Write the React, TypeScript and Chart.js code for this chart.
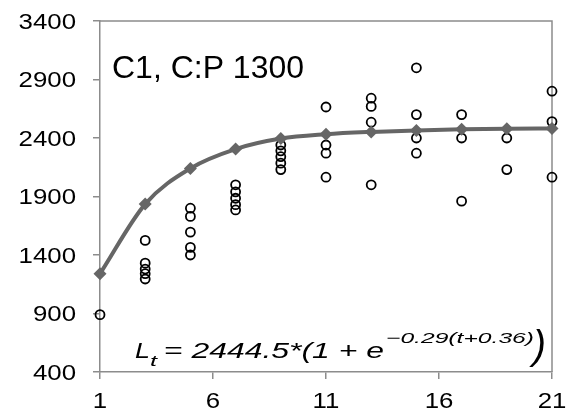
import { useEffect, useRef } from "react";
import { Chart, registerables } from "chart.js";

Chart.register(...registerables);

// Fitted growth curve (diamonds)
const curveT = [1, 3, 5, 7, 9, 11, 13, 15, 17, 19, 21];
const curveLength = [1240, 1835, 2140, 2305, 2395, 2432, 2452, 2465, 2474, 2480, 2482];

// Observations (open circles)
const obsT = [
  1,
  3, 3, 3, 3, 3,
  5, 5, 5, 5, 5,
  7, 7, 7, 7, 7,
  9, 9, 9, 9, 9,
  11, 11, 11, 11,
  13, 13, 13, 13,
  15, 15, 15, 15,
  17, 17, 17,
  19, 19,
  21, 21, 21,
];
const obsLength = [
  890,
  1525, 1330, 1280, 1240, 1195,
  1800, 1730, 1595, 1465, 1400,
  2000, 1940, 1885, 1830, 1785,
  2340, 2290, 2240, 2185, 2130,
  2665, 2340, 2270, 2065,
  2740, 2670, 2535, 2000,
  3000, 2600, 2400, 2270,
  2600, 2400, 1860,
  2400, 2130,
  2800, 2540, 2065,
];

const xTicks = [1, 6, 11, 16, 21];
const yTicks = [400, 900, 1400, 1900, 2400, 2900, 3400];

const titleText = "C1, C:P 1300";
const FONT = "'Liberation Sans', Arial, sans-serif";
const AXIS = "#8c8c8c";
const CURVE = "#666666";
const TICK_FONT = `21.5px ${FONT}`;
const TICK_STRETCH = 1.2;

function drawStretched(ctx: any, text: string, x: number, y: number, sx: number, align: "left" | "center" | "right") {
  const w = ctx.measureText(text).width * sx;
  let left = x;
  if (align === "center") left = x - w / 2;
  if (align === "right") left = x - w;
  ctx.save();
  ctx.translate(left, y);
  ctx.scale(sx, 1);
  ctx.textAlign = "left";
  ctx.fillText(text, 0, 0);
  ctx.restore();
}

function drawFit(ctx: any, text: string, font: string, x: number, y: number, width: number) {
  ctx.font = font;
  const w = ctx.measureText(text).width;
  ctx.save();
  ctx.translate(x, y);
  ctx.scale(width / w, 1);
  ctx.textAlign = "left";
  ctx.fillText(text, 0, 0);
  ctx.restore();
}

const overlayPlugin = {
  id: "overlay",
  beforeDatasetsDraw(chart: any) {
    const { ctx, chartArea } = chart;
    ctx.save();
    ctx.strokeStyle = AXIS;
    ctx.lineWidth = 1.5;
    ctx.beginPath();
    ctx.moveTo(chartArea.left, chartArea.top);
    ctx.lineTo(chartArea.right, chartArea.top);
    ctx.lineTo(chartArea.right, chartArea.bottom);
    ctx.stroke();
    ctx.restore();
  },
  afterDraw(chart: any) {
    const { ctx, scales } = chart;
    ctx.save();
    ctx.fillStyle = "#000";
    ctx.textBaseline = "alphabetic";
    // tick labels
    ctx.font = TICK_FONT;
    const xs = scales.x;
    const ys = scales.y;
    xTicks.forEach((v) => {
      drawStretched(ctx, String(v), xs.getPixelForValue(v), 408, TICK_STRETCH, "center");
    });
    yTicks.forEach((v) => {
      drawStretched(ctx, String(v), 76, ys.getPixelForValue(v) + 7.7, TICK_STRETCH, "right");
    });
    // title
    drawFit(ctx, titleText, `31px ${FONT}`, 112, 78, 192);
    // formula
    const base = 358;
    drawFit(ctx, "L", `italic 22px ${FONT}`, 135, base, 15);
    drawFit(ctx, "t", `italic 15px ${FONT}`, 150, base + 8, 7);
    drawFit(ctx, " = 2444.5*(1 + e", `italic 22px ${FONT}`, 155, base, 229);
    drawFit(ctx, "\u22120.29(t+0.36)", `italic 15px ${FONT}`, 386, base - 15, 148);
    drawFit(ctx, ")", `italic 40px ${FONT}`, 533, base + 1, 13);
    ctx.restore();
  },
};

export default function App() {
  const ref = useRef<HTMLCanvasElement | null>(null);
  useEffect(() => {
    document.body.style.margin = "0";
    const canvas = ref.current!;
    const chart = new Chart(canvas, {
      type: "scatter",
      data: {
        datasets: [
          {
            type: "line",
            label: "fit",
            data: curveT.map((t, i) => ({ x: t, y: curveLength[i] })),
            borderColor: CURVE,
            backgroundColor: CURVE,
            borderWidth: 4,
            cubicInterpolationMode: "monotone",
            pointStyle: "rectRot",
            pointRadius: 6.5,
            pointBorderWidth: 0,
            pointBackgroundColor: CURVE,
            order: 0,
            clip: false,
          } as any,
          {
            type: "scatter",
            label: "obs",
            data: obsT.map((t, i) => ({ x: t, y: obsLength[i] })),
            borderColor: "#000",
            backgroundColor: "rgba(0,0,0,0)",
            pointRadius: 4.5,
            pointBorderWidth: 1.8,
            order: 1,
            clip: false,
          } as any,
        ],
      },
      options: {
        animation: false,
        responsive: false,
        layout: { padding: { left: 0, right: 19, top: 21, bottom: 0 } },
        plugins: { legend: { display: false }, tooltip: { enabled: false } },
        scales: {
          x: {
            type: "linear",
            min: 1,
            max: 21,
            afterBuildTicks: (s: any) => {
              s.ticks = xTicks.map((v) => ({ value: v }));
            },
            afterFit: (s: any) => {
              s.height = 48;
            },
            grid: { drawOnChartArea: false, drawTicks: true, tickLength: 7, color: AXIS, lineWidth: 1.5 },
            border: { display: true, color: AXIS, width: 1.5 },
            ticks: { display: false },
          },
          y: {
            type: "linear",
            min: 400,
            max: 3400,
            afterBuildTicks: (s: any) => {
              s.ticks = yTicks.map((v) => ({ value: v }));
            },
            afterFit: (s: any) => {
              s.width = 100;
            },
            grid: { drawOnChartArea: false, drawTicks: true, tickLength: 7, color: AXIS, lineWidth: 1.5 },
            border: { display: true, color: AXIS, width: 1.5 },
            ticks: { display: false },
          },
        },
      },
      plugins: [overlayPlugin],
    });
    return () => chart.destroy();
  }, []);
  return <canvas ref={ref} width={571} height={420} style={{ display: "block" }} />;
}
